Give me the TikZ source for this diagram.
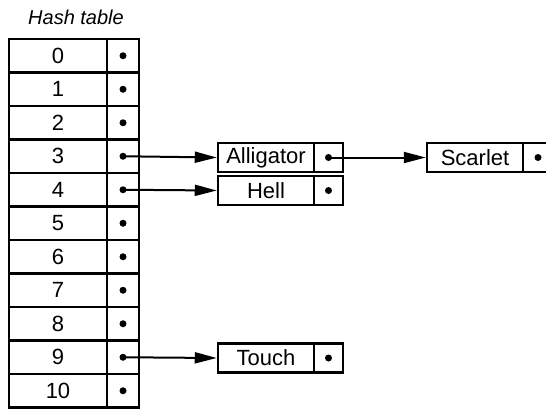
\documentclass[tikz,border=0pt]{standalone}
\usepackage{fontspec}
\setmainfont{Liberation Sans}
\usetikzlibrary{arrows.meta, positioning}

\tikzset{
    keycell/.style={draw, line width=2.8pt, minimum width=98pt, minimum height=33.5pt, inner sep=0pt, font=\fontsize{22}{22}\selectfont},
    ptrcell/.style={draw, line width=2.8pt, minimum width=32pt, minimum height=33.5pt, inner sep=0pt},
    namebox/.style={draw, line width=2.5pt, minimum width=96pt, minimum height=29pt, inner sep=0pt, font=\fontsize{22}{22}\selectfont},
    ptrbox/.style={draw, line width=2.5pt, minimum width=29pt, minimum height=29pt, inner sep=0pt},
    dot/.style={circle, fill, inner sep=0pt, minimum size=7pt},
    link/.style={line width=2pt, -{Triangle[length=22pt, width=11pt]}}
}

\begin{document}
\begin{tikzpicture}[x=1pt, y=-1pt]
    \clip (0, 0) rectangle (546, 410);

    % title
    \node (title) at (76, 17) {\fontsize{20}{20}\selectfont\itshape Hash table};

    % hash table
    \foreach \i in {0,...,10} {
        \node[keycell] (key\i) at (58, {55.75+33.5*\i}) {\i};
        \node[ptrcell] (ptr\i) at (123, {55.75+33.5*\i}) {};
        \node[dot] (dot\i) at (ptr\i.center) {};
    }

    % linked entries
    \node[namebox] (alligator) at (266, 157.5) {Alligator};
    \node[ptrbox] (alligatorp) at (328.5, 157.5) {};
    \node[dot] (alligatord) at (alligatorp.center) {};

    \node[namebox] (hell) at (266, 190.5) {Hell};
    \node[ptrbox] (hellp) at (328.5, 190.5) {};
    \node[dot] (helld) at (hellp.center) {};

    \node[namebox] (scarlet) at (475, 157.5) {Scarlet};
    \node[ptrbox, minimum width=32pt] (scarletp) at (539, 157.5) {};
    \node[dot] (scarletd) at (538, 157.5) {};

    \node[namebox] (touch) at (266, 358) {Touch};
    \node[ptrbox] (touchp) at (328.5, 358) {};
    \node[dot] (touchd) at (touchp.center) {};

    % pointers
    \draw[link] (dot3.center) -- (alligator.west);
    \draw[link] (dot4.center) -- (hell.west);
    \draw[link] (dot9.center) -- (touch.west);
    \draw[link] (alligatord.center) -- (scarlet.west);
\end{tikzpicture}
\end{document}
